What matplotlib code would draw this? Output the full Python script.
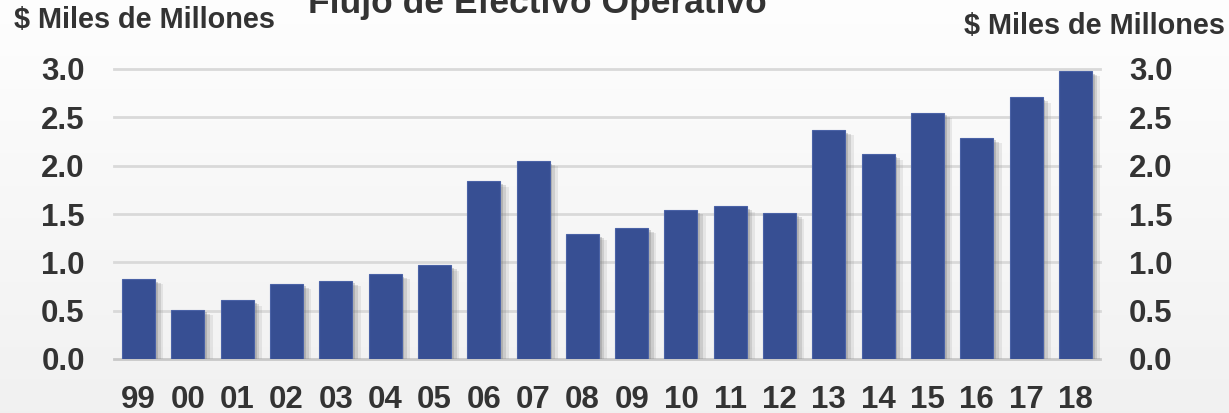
import matplotlib
matplotlib.use('Agg')
import matplotlib.pyplot as plt
import matplotlib.patheffects as pe
import numpy as np

# Datos: flujo de efectivo operativo ($ miles de millones)
years = ['99', '00', '01', '02', '03', '04', '05', '06', '07', '08',
         '09', '10', '11', '12', '13', '14', '15', '16', '17', '18']
values = [0.83, 0.51, 0.61, 0.78, 0.81, 0.88, 0.97, 1.84, 2.05, 1.29,
          1.36, 1.54, 1.58, 1.51, 2.37, 2.12, 2.55, 2.29, 2.71, 2.98]
yticks = [0.0, 0.5, 1.0, 1.5, 2.0, 2.5, 3.0]

BAR = '#374f93'
TXT = '#333333'
GRID = '#d9d9d9'

plt.rcParams['font.family'] = ['Liberation Sans', 'DejaVu Sans']
plt.rcParams['font.weight'] = 'bold'

fig = plt.figure(figsize=(12.29, 4.13), dpi=100)

# fondo con degradado suave (blanco arriba, gris claro abajo)
bg = fig.add_axes([0, 0, 1, 1], zorder=-10)
grad = np.linspace(0.995, 0.945, 256).reshape(-1, 1)
bg.imshow(np.dstack([grad, grad, grad]), aspect='auto', extent=[0, 1, 0, 1])
bg.axis('off')

ax = fig.add_axes([114 / 1229, 1 - 359 / 413, 986 / 1229, 290 / 413])
ax.set_facecolor('none')

x = np.arange(len(years))
# sombra difusa a la derecha/abajo de cada barra
shadow = [pe.SimplePatchShadow(offset=(6, -4), shadow_rgbFace='#999999', alpha=0.18),
          pe.SimplePatchShadow(offset=(4, -3), shadow_rgbFace='#888888', alpha=0.25),
          pe.SimplePatchShadow(offset=(2, -2), shadow_rgbFace='#777777', alpha=0.3),
          pe.Normal()]
bars = ax.bar(x, values, width=0.67, color=BAR, edgecolor='#4a62a6', linewidth=0.8,
              zorder=3)
for b in bars:
    b.set_path_effects(shadow)

ax.set_xlim(-0.5, len(years) - 0.5)
ax.set_ylim(0, 3.0)
ax.set_yticks(yticks)
ax.set_yticklabels([f'{v:.1f}' for v in yticks])
ax.set_xticks(x)
ax.set_xticklabels(years)

for v in yticks[1:]:
    ax.axhline(v, color=GRID, linewidth=2, zorder=1, clip_on=False)
ax.axhline(0, color='#c8c8c8', linewidth=2, zorder=2, clip_on=False,
           path_effects=[pe.SimplePatchShadow(offset=(0, -2), shadow_rgbFace='#999999', alpha=0.5),
                         pe.Normal()])

for s in ax.spines.values():
    s.set_visible(False)
ax.tick_params(axis='both', length=0, labelsize=22.5, labelcolor=TXT)
ax.tick_params(axis='y', pad=21, labelright=True)
ax.tick_params(axis='x', pad=19)

# el título queda recortado por el borde superior, como en el original
fig.text(537 / 1229, 1 - 13 / 413, 'Flujo de Efectivo Operativo', ha='center',
         va='baseline', fontsize=25.5, fontweight='bold', color=TXT)
fig.text(14 / 1229, 1 - 28 / 413, '$ Miles de Millones', ha='left', va='baseline',
         fontsize=20.8, fontweight='bold', color=TXT)
fig.text(1225 / 1229, 1 - 34 / 413, '$ Miles de Millones', ha='right', va='baseline',
         fontsize=20.8, fontweight='bold', color=TXT)

fig.savefig('out.png', dpi=100)
